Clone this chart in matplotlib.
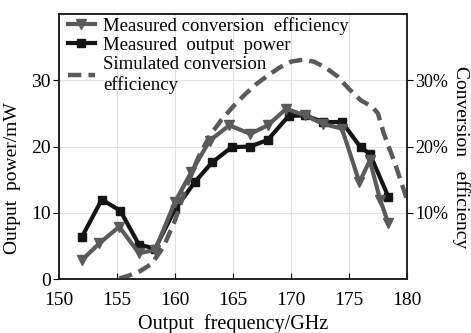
import matplotlib.pyplot as plt
import numpy as np

plt.rcParams['font.family'] = ['Liberation Serif', 'DejaVu Serif']
plt.rcParams['font.size'] = 13.5

# measured conversion efficiency (%)
f_eff = [152, 153.5, 155.2, 156.9, 158.3, 160, 161.4, 163, 164.7, 166.5, 168, 169.6,
         171.2, 172.8, 174.4, 175.9, 176.8, 177.7, 178.4]
eff = [2.9, 5.4, 7.9, 3.9, 4.4, 11.6, 16.1, 20.9, 23.2, 21.9, 23.2, 25.7,
       24.7, 23.4, 22.7, 14.6, 17.9, 11.9, 8.4]

# measured output power (mW)
f_pow = [152, 153.7, 155.3, 156.9, 158.3, 160, 161.7, 163.2, 164.9, 166.5, 168, 169.8,
         171.2, 172.8, 174.4, 176, 176.8, 178.4]
power = [6.4, 12.0, 10.3, 5.2, 4.6, 10.5, 14.6, 17.6, 19.9, 20.0, 21.0, 24.6,
         24.7, 23.7, 23.7, 19.9, 18.9, 12.4]

# simulated conversion efficiency (%)
f_sim = [155.2, 156, 157, 158, 159, 160, 161, 162, 163, 164, 165, 166, 167, 168, 169,
         170, 171, 172, 173, 174, 175, 176, 177, 177.5, 178, 179, 180]
sim = [0.1, 0.5, 1.2, 2.3, 4.8, 8.8, 14.0, 18.3, 21.6, 24.0, 26.0, 27.8, 29.4, 30.7, 31.9,
       32.8, 33.1, 32.8, 31.9, 30.6, 28.7, 27.0, 26.0, 25.0, 22.0, 17.3, 12.0]

grey = '#5a5a5a'
black = '#151515'

fig = plt.figure(figsize=(4.71, 3.33), dpi=100)
ax = fig.add_axes([0.125, 0.162, 0.739, 0.796])
ax2 = ax.twinx()

l1, = ax2.plot(f_eff, eff, color=grey, lw=3, marker='v', ms=7, zorder=3,
               label='Measured conversion  efficiency')
l2, = ax.plot(f_pow, power, color=black, lw=3, marker='s', ms=6, zorder=2,
              label='Measured  output  power')
l3, = ax2.plot(f_sim, sim, color=grey, lw=3.2, ls=(0, (3, 1.6)), zorder=2,
               label='Simulated conversion\nefficiency')

ax.set_xlim(150, 180)
ax.set_ylim(0, 40)
ax2.set_ylim(0, 40)
ax.set_xticks(np.arange(150, 181, 5))
ax.set_yticks([0, 10, 20, 30])
ax2.set_yticks([10, 20, 30])
ax2.set_yticklabels(['10%', '20%', '30%'])

ax.grid(True, color='#e2e2e2', lw=0.8)
ax.set_axisbelow(True)
ax.tick_params(axis='x', direction='in', length=4, pad=9, labelsize=14)
ax.tick_params(axis='y', direction='out', length=4, pad=2, labelsize=14)
ax2.tick_params(axis='y', direction='out', length=4, pad=2, labelsize=13)

for a in (ax, ax2):
    for s in a.spines.values():
        s.set_linewidth(1.2)
        s.set_color('#222222')

ax.set_xlabel('Output  frequency/GHz', fontsize=14.5, labelpad=4)
ax.set_ylabel('Output  power/mW', fontsize=14)
ax2.set_ylabel('Conversion   efficiency', rotation=270, fontsize=14)
ax.yaxis.set_label_coords(-0.11, 0.38)
ax2.yaxis.set_label_coords(1.18, 0.46)

ax2.legend(handles=[l1, l2, l3], loc='upper left', frameon=False,
           handlelength=1.4, handletextpad=0.45, labelspacing=0.12,
           borderaxespad=0.1, bbox_to_anchor=(0.0, 1.025), fontsize=13.5)

fig.savefig('out.png', dpi=100)
